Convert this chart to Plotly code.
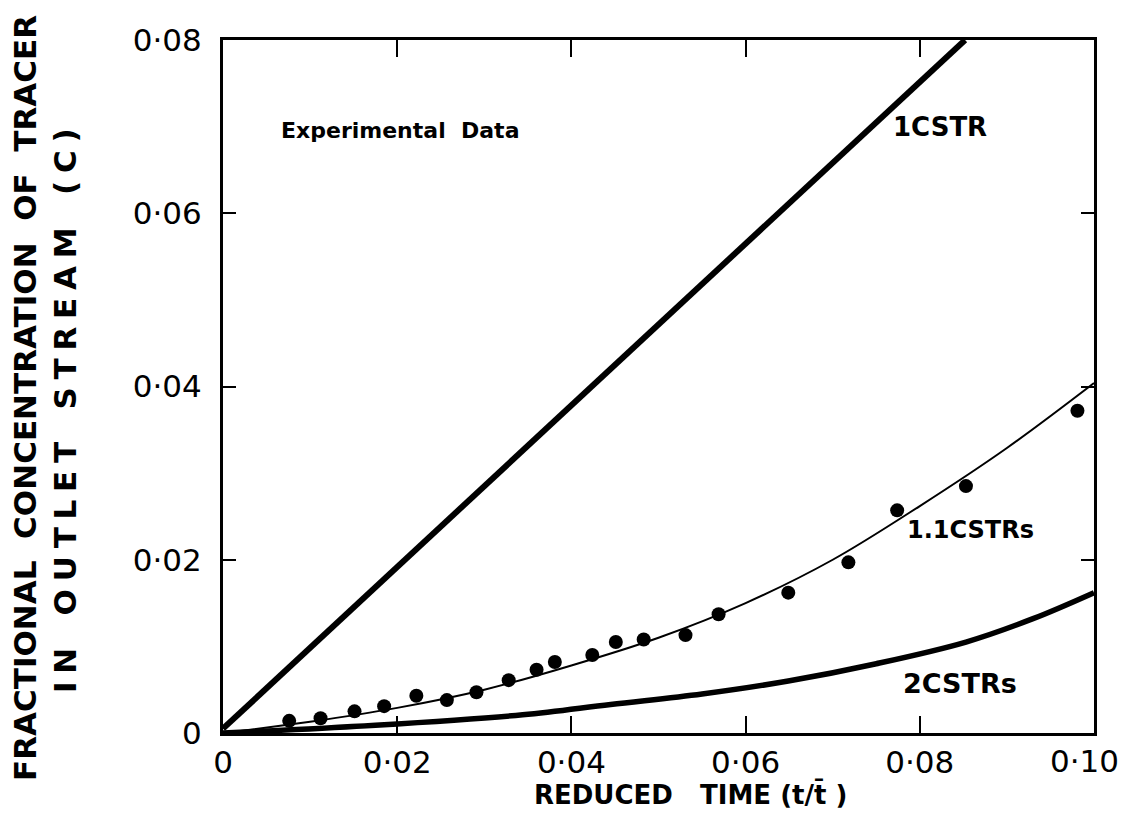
import plotly.graph_objects as go

# Experimental data points
exp_x = [0.0076, 0.0112, 0.0151, 0.0185, 0.0222, 0.0257, 0.0291, 0.0328, 0.0360, 0.0381,
         0.0424, 0.0451, 0.0483, 0.0531, 0.0569, 0.0649, 0.0718, 0.0774, 0.0853, 0.0981]
exp_y = [0.0014, 0.0017, 0.0025, 0.0031, 0.0043, 0.0038, 0.0047, 0.0061, 0.0073, 0.0082,
         0.0090, 0.0105, 0.0108, 0.0113, 0.0137, 0.0162, 0.0197, 0.0257, 0.0285, 0.0372]

# Model curves
cstr1_x = [0.0, 0.0852]
cstr1_y = [0.0005, 0.080]

cstr11_x = [0.0, 0.01, 0.02, 0.03, 0.04, 0.05, 0.06, 0.07, 0.08, 0.09, 0.10]
cstr11_y = [0.0, 0.0013, 0.0029, 0.0050, 0.0078, 0.0110, 0.0150, 0.0200, 0.0262, 0.0329, 0.0404]

cstr2_x = [0.0, 0.0175, 0.0344, 0.0445, 0.0550, 0.0649, 0.0750, 0.0853, 0.0930, 0.10]
cstr2_y = [0.0, 0.0009, 0.0021, 0.0033, 0.0045, 0.0060, 0.0080, 0.0105, 0.0132, 0.0162]

x_tickvals = [0, 0.02, 0.04, 0.06, 0.08, 0.10]
x_ticktext = ["0", "0·02", "0·04", "0·06", "0·08", "0·10"]
y_tickvals = [0, 0.02, 0.04, 0.06, 0.08]
y_ticktext = ["0", "0·02", "0·04", "0·06", "0·08"]

FONT = "DejaVu Sans"
L, R, T, B = 223, 29, 40, 81
PW, PH = 1123 - L - R, 814 - T - B


def px(x):
    return (x - L) / PW


def py(y):
    return (814 - B - y) / PH


fig = go.Figure()
fig.add_trace(go.Scatter(x=cstr1_x, y=cstr1_y, mode="lines",
                         line=dict(color="black", width=6), showlegend=False))
fig.add_trace(go.Scatter(x=cstr11_x, y=cstr11_y, mode="lines", line_shape="spline",
                         line=dict(color="black", width=2), showlegend=False))
fig.add_trace(go.Scatter(x=cstr2_x, y=cstr2_y, mode="lines", line_shape="spline",
                         line=dict(color="black", width=5.5), showlegend=False))
fig.add_trace(go.Scatter(x=exp_x, y=exp_y, mode="markers",
                         marker=dict(color="black", size=14), showlegend=False))

fig.update_layout(
    width=1123, height=814,
    margin=dict(l=L, r=R, t=T, b=B, autoexpand=False),
    paper_bgcolor="white", plot_bgcolor="white",
    font=dict(family=FONT, color="black"),
)
# last x tick label is placed separately (right-aligned) so it stays inside the page
shown_x_text = x_ticktext[:-1] + [""]
fig.update_xaxes(range=[0, 0.10], tickvals=x_tickvals, ticktext=shown_x_text,
                 ticks="inside", ticklen=17, tickwidth=2, tickcolor="black",
                 showline=True, linewidth=3, linecolor="black", mirror="ticks",
                 showgrid=False, zeroline=False, ticklabeloverflow="allow", automargin=False,
                 tickfont=dict(size=31, family=FONT), ticklabelstandoff=0)
fig.update_yaxes(range=[0, 0.08], tickvals=y_tickvals, ticktext=y_ticktext,
                 ticks="inside", ticklen=13, tickwidth=2, tickcolor="black",
                 showline=True, linewidth=3, linecolor="black", mirror="ticks",
                 showgrid=False, zeroline=False, ticklabeloverflow="allow", automargin=False,
                 tickfont=dict(size=31, family=FONT), ticklabelstandoff=12)


def label(x, y, text, size, angle=0, xanchor="center"):
    fig.add_annotation(x=px(x), y=py(y), text=text, xref="paper", yref="paper",
                       xanchor=xanchor, yanchor="middle", showarrow=False,
                       textangle=angle, font=dict(size=size, family=FONT, color="black"))


label(1121, 761, x_ticktext[-1], 31, xanchor="right")

label(400, 130, "<b>Experimental  Data</b>", 22)
label(940, 127, "<b>1CSTR</b>", 26)
label(970, 530, "<b>1.1CSTRs</b>", 24)
label(960, 683, "<b>2CSTRs</b>", 27)

# axis titles
label(690, 794, "<b>REDUCED   TIME (t/t̄ )</b>", 26)
label(25, 398, "<b>FRACTIONAL  CONCENTRATION  OF  TRACER</b>", 31, -90)
SP = "\u2005"
line2 = "   ".join(SP.join(w) for w in ["IN", "OUTLET", "STREAM", "(C)"])
label(65, 411, "<b>" + line2 + "</b>", 31, -90)

fig.write_html("out.html")
